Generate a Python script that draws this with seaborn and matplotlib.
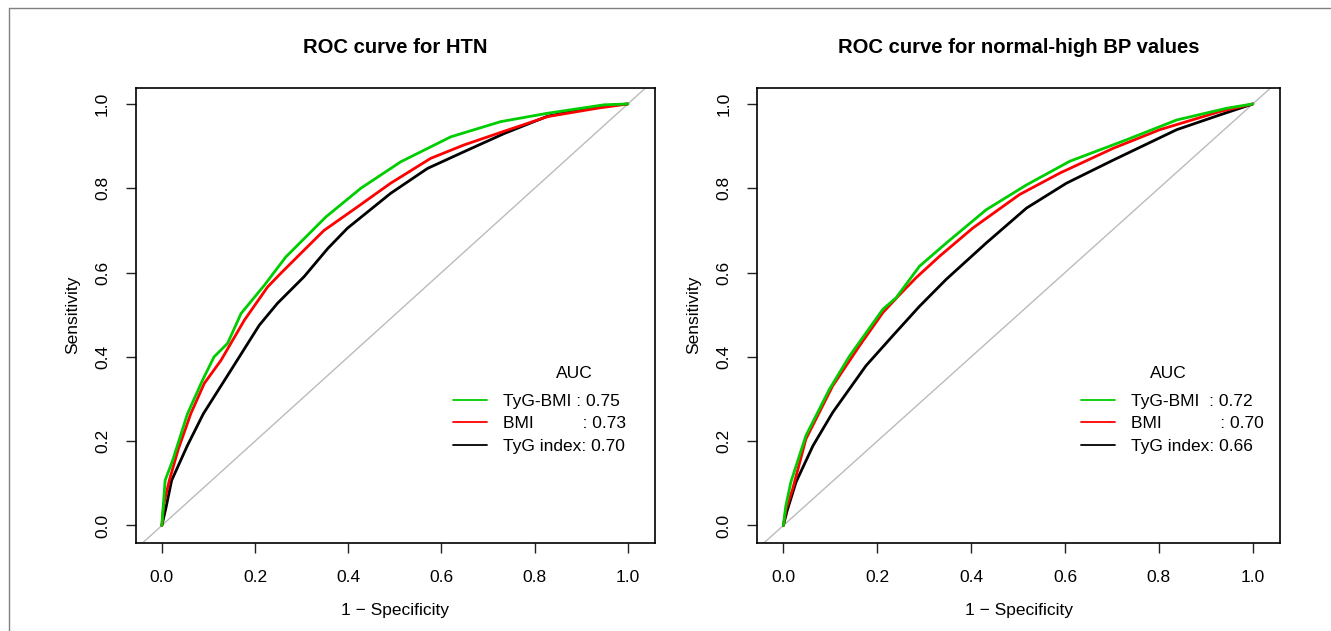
import numpy as np
import pandas as pd
import matplotlib
matplotlib.use("Agg")
import matplotlib.pyplot as plt
import seaborn as sns
from matplotlib.lines import Line2D

# ROC curve for HTN
htn_fpr_tygbmi = [0.0, 0.007, 0.023, 0.055, 0.087, 0.112, 0.141, 0.170, 0.220, 0.266, 0.352, 0.427, 0.513, 0.620, 0.727, 0.828, 0.949, 1.0]
htn_tpr_tygbmi = [0.0, 0.107, 0.154, 0.265, 0.344, 0.400, 0.432, 0.503, 0.570, 0.637, 0.732, 0.800, 0.863, 0.922, 0.958, 0.978, 0.998, 1.0]
htn_fpr_bmi = [0.0, 0.004, 0.016, 0.035, 0.062, 0.091, 0.127, 0.177, 0.227, 0.255, 0.305, 0.348, 0.420, 0.491, 0.577, 0.649, 0.742, 0.828, 0.935, 1.0]
htn_tpr_bmi = [0.0, 0.050, 0.107, 0.180, 0.265, 0.337, 0.392, 0.487, 0.566, 0.598, 0.653, 0.700, 0.756, 0.812, 0.871, 0.903, 0.938, 0.970, 0.990, 1.0]
htn_fpr_tyg = [0.0, 0.009, 0.021, 0.055, 0.089, 0.148, 0.209, 0.248, 0.305, 0.356, 0.398, 0.491, 0.570, 0.649, 0.735, 0.828, 0.935, 1.0]
htn_tpr_tyg = [0.0, 0.043, 0.107, 0.190, 0.265, 0.368, 0.475, 0.527, 0.590, 0.657, 0.705, 0.788, 0.847, 0.887, 0.930, 0.971, 0.994, 1.0]

# ROC curve for normal-high BP values
bp_fpr_tygbmi = [0.0, 0.005, 0.016, 0.048, 0.098, 0.141, 0.212, 0.240, 0.290, 0.347, 0.432, 0.518, 0.610, 0.731, 0.838, 0.945, 1.0]
bp_tpr_tygbmi = [0.0, 0.045, 0.103, 0.213, 0.323, 0.402, 0.513, 0.540, 0.615, 0.670, 0.749, 0.808, 0.864, 0.915, 0.962, 0.990, 1.0]
bp_fpr_bmi = [0.0, 0.006, 0.020, 0.048, 0.105, 0.162, 0.212, 0.248, 0.283, 0.333, 0.404, 0.503, 0.589, 0.703, 0.802, 0.930, 1.0]
bp_tpr_bmi = [0.0, 0.040, 0.087, 0.205, 0.331, 0.426, 0.505, 0.548, 0.588, 0.639, 0.706, 0.785, 0.836, 0.895, 0.939, 0.982, 1.0]
bp_fpr_tyg = [0.0, 0.008, 0.027, 0.063, 0.105, 0.176, 0.233, 0.290, 0.347, 0.432, 0.518, 0.603, 0.703, 0.838, 0.930, 1.0]
bp_tpr_tyg = [0.0, 0.035, 0.103, 0.189, 0.268, 0.379, 0.450, 0.520, 0.584, 0.670, 0.753, 0.812, 0.867, 0.939, 0.974, 1.0]

htn_labels = ["TyG-BMI : 0.75", "BMI          : 0.73", "TyG index: 0.70"]
bp_labels = ["TyG-BMI  : 0.72", "BMI            : 0.70", "TyG index: 0.66"]
titles = ["ROC curve for HTN", "ROC curve for normal-high BP values"]
colors = ["#00CD00", "#FF0000", "#000000"]
ticks = [0.0, 0.2, 0.4, 0.6, 0.8, 1.0]

sns.set_style("ticks")
plt.rcParams["font.family"] = ["Liberation Sans", "DejaVu Sans"]
plt.rcParams["text.color"] = "black"
plt.rcParams["axes.labelcolor"] = "black"
plt.rcParams["xtick.color"] = "black"
plt.rcParams["ytick.color"] = "black"

fig = plt.figure(figsize=(13.31, 6.31), dpi=100)
ax1 = fig.add_axes([0.102, 0.1395, 0.390, 0.7218])
ax2 = fig.add_axes([0.5688, 0.1395, 0.3929, 0.7218])

paneles = [
    (ax1, [(htn_fpr_tygbmi, htn_tpr_tygbmi), (htn_fpr_bmi, htn_tpr_bmi), (htn_fpr_tyg, htn_tpr_tyg)], htn_labels, 0.611, 0.844),
    (ax2, [(bp_fpr_tygbmi, bp_tpr_tygbmi), (bp_fpr_bmi, bp_tpr_bmi), (bp_fpr_tyg, bp_tpr_tyg)], bp_labels, 0.6195, 0.786),
]

for i, (ax, curvas, labels, leg_x, auc_x) in enumerate(paneles):
    ax.axline((0, 0), (1, 1), color="#BBBBBB", lw=1, zorder=1)
    # draw black first so green ends on top
    for j in [2, 1, 0]:
        fpr, tpr = curvas[j]
        df = pd.DataFrame({"fpr": fpr, "tpr": tpr})
        sns.lineplot(data=df, x="fpr", y="tpr", color=colors[j], lw=2,
                     estimator=None, sort=False, ax=ax, zorder=3)

    ax.set_xlim(-0.056, 1.058)
    ax.set_ylim(-0.0415, 1.039)
    ax.set_xticks(ticks)
    ax.set_yticks(ticks)
    ax.set_xticklabels([f"{t:.1f}" for t in ticks], fontsize=12.5)
    ax.set_yticklabels([f"{t:.1f}" for t in ticks], fontsize=12.5, rotation=90, va="center")
    ax.tick_params(axis="both", direction="out", length=7.5, width=1, color="#222222", pad=12)
    ax.tick_params(axis="y", pad=11)
    for s in ax.spines.values():
        s.set_visible(True)
        s.set_linewidth(1.2)
        s.set_color("black")

    ax.set_xlabel("1 \u2212 Specificity", fontsize=12.5, labelpad=13)
    ax.set_ylabel("Sensitivity", fontsize=12.5, labelpad=11)
    ax.set_title(titles[i], fontsize=14.6, fontweight="bold", pad=25)

    handles = [Line2D([], [], color=c, lw=1.3) for c in colors]
    ax.legend(handles, labels, loc="upper left", bbox_to_anchor=(leg_x, 0.328),
              frameon=False, fontsize=12.5, handlelength=1.95, handletextpad=0.92,
              labelspacing=0.42, borderpad=0, borderaxespad=0)
    ax.text(auc_x, 0.373, "AUC", transform=ax.transAxes, fontsize=12.5,
            ha="center", va="center")

# grey frame on top and left edge like the source image
fig.add_artist(Line2D([9 / 1331, 9 / 1331], [0, 1 - 8 / 631], color="#808080", lw=1))
fig.add_artist(Line2D([9 / 1331, 1], [1 - 8 / 631, 1 - 8 / 631], color="#808080", lw=1))

plt.savefig("out.png", dpi=100)
